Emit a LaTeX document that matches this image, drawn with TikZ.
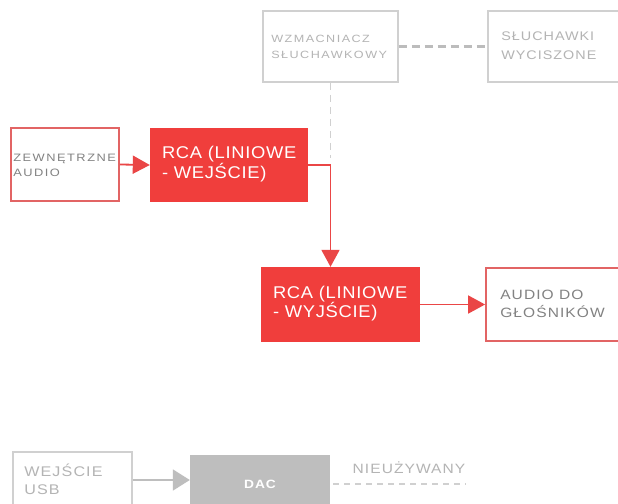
\documentclass[tikz,border=0pt]{standalone}
\usepackage{fontspec}
\setmainfont{Liberation Sans}
\newfontfamily\smallsans[FakeStretch=1.2,LetterSpace=14]{Liberation Sans}
\newfontfamily\midsans[FakeStretch=1.15,LetterSpace=8]{Liberation Sans}
\newfontfamily\bigsans[FakeStretch=1.08,LetterSpace=4]{Liberation Sans}
\usepackage{xcolor}
\usetikzlibrary{arrows.meta}
\definecolor{rcared}{RGB}{240,62,60}
\definecolor{linered}{RGB}{234,70,70}
\definecolor{softred}{RGB}{226,100,100}
\definecolor{boxgrey}{RGB}{208,208,208}
\definecolor{dashgrey}{RGB}{188,188,188}
\definecolor{textgrey}{RGB}{180,180,180}
\definecolor{darkgrey}{RGB}{130,130,130}
\definecolor{dacgrey}{RGB}{190,190,190}
\tikzset{
    greybox/.style={draw=boxgrey, line width=1.8pt},
    softbox/.style={draw=softred, line width=1.8pt},
    rcabox/.style={fill=rcared, draw=none},
    boxtext/.style={anchor=west, align=left, inner sep=0pt},
    redarrow/.style={draw=linered, line width=1.8pt, -{Triangle[length=17pt,width=18pt]}},
    greyarrow/.style={draw=dacgrey, line width=1.8pt, -{Triangle[length=17pt,width=21pt]}},
    greydash/.style={draw=dashgrey, line width=2.2pt, dash pattern=on 8pt off 5pt},
}

\begin{document}
\begin{tikzpicture}[x=1pt,y=-1pt]
            \fill[white] (0,0) rectangle (618,503);
            \useasboundingbox (0,0) rectangle (618,503);

            % top row
            \node[greybox, minimum width=135pt, minimum height=71pt] (wzm) at (330.5,46.5) {};
            \node[boxtext, text=textgrey, font=\smallsans\fontsize{10.5}{16}\selectfont] (wzmtxt) at ([xshift=9pt]wzm.west) {WZMACNIACZ\\SŁUCHAWKOWY};
            \node[greybox, minimum width=138pt, minimum height=71pt] (sluch) at (557,46.5) {};
            \node[boxtext, text=textgrey, font=\midsans\fontsize{12.5}{18.7}\selectfont] (sluchtxt) at ([xshift=14pt,yshift=1pt]sluch.west) {SŁUCHAWKI\\WYCISZONE};

            % middle rows
            \node[softbox, minimum width=108pt, minimum height=73pt] (zew) at (65,164.5) {};
            \node[boxtext, text=darkgrey, font=\smallsans\fontsize{10.7}{15}\selectfont] (zewtxt) at ([xshift=3pt,yshift=-1pt]zew.west) {ZEWNĘTRZNE\\AUDIO};
            \node[rcabox, minimum width=158pt, minimum height=74pt] (rcain) at (229,165) {};
            \node[boxtext, text=white, font=\bigsans\fontsize{17}{18}\selectfont] (rcaintxt) at ([xshift=12pt,yshift=1pt]rcain.west) {RCA (LINIOWE\\- WEJŚCIE)};
            \node[rcabox, minimum width=159pt, minimum height=75pt] (rcaout) at (340.5,304.5) {};
            \node[boxtext, text=white, font=\bigsans\fontsize{17}{18}\selectfont] (rcaouttxt) at ([xshift=12pt,yshift=1pt]rcaout.west) {RCA (LINIOWE\\- WYJŚCIE)};
            \node[softbox, minimum width=140pt, minimum height=73pt] (audio) at (556,304.5) {};
            \node[boxtext, text=darkgrey, font=\midsans\fontsize{13.5}{18.3}\selectfont] (audiotxt) at ([xshift=15pt,yshift=1pt]audio.west) {AUDIO DO\\GŁOŚNIKÓW};

            % bottom row
            \node[greybox, minimum width=119pt, minimum height=56pt] (usb) at (72.5,480) {};
            \node[boxtext, text=textgrey, font=\midsans\fontsize{14}{18.3}\selectfont] (usbtxt) at ([xshift=12pt,yshift=1pt]usb.west) {WEJŚCIE\\USB};
            \node[rcabox, fill=dacgrey, minimum width=140pt, minimum height=58pt, text=white, font=\midsans\bfseries\fontsize{12}{14}\selectfont] (dac) at (260,484) {DAC};
            \node[inner sep=0pt, text=textgrey, font=\midsans\fontsize{13.5}{16}\selectfont] (unused) at (409,468) {NIEUŻYWANY};

            % connectors
            \draw[greydash] (wzm.east) -- (sluch.west);
            \coordinate (dashend) at (330.5,158);
            \draw[draw=boxgrey, line width=1pt, dash pattern=on 7pt off 5pt] (wzm.south) -- (dashend);
            \draw[redarrow] (zew.east) -- (rcain.west);
            \draw[redarrow] (rcain.east) -| (wzm.south |- rcaout.north);
            \draw[redarrow] (rcaout.east) -- (audio.west);
            \draw[greyarrow] (usb.east) -- (usb.east -| dac.west);
            \draw[draw=boxgrey, line width=1.5pt, dash pattern=on 6pt off 5pt] ([xshift=3pt]dac.east) -- (dac.east -| unused.east);
\end{tikzpicture}
\end{document}
